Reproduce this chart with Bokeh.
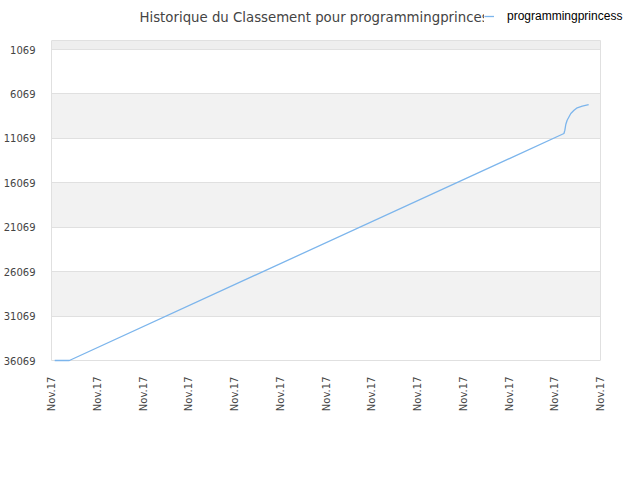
from bokeh.plotting import figure
from bokeh.models import FixedTicker, Range1d, BoxAnnotation, Legend, LegendItem, Label, Grid
from bokeh.embed import file_html
from bokeh.resources import INLINE
import math

# ---- data ----
player = "programmingprincess"
title_text = "Historique du Classement pour programmingprincess"
x_days = [0.07, 0.39, 11.20, 11.22, 11.24, 11.27, 11.35, 11.42, 11.49, 11.60, 11.74]
rank = [36069, 36069, 10522, 10151, 9509, 9026, 8272, 7900, 7630, 7450, 7259]
y_ticks = [1069, 6069, 11069, 16069, 21069, 26069, 31069, 36069]
x_ticks = list(range(0, 13))
x_tick_label = "Nov.17"

# ---- layout (pixels) ----
W, H = 632, 472
LEFT, BOTTOM = 50, 112           # frame left / bottom border
PLOT_W, PLOT_H = 550, 320        # visible plot box
x_lo, x_hi = x_ticks[0], x_ticks[-1]
y_lo, y_hi = y_ticks[-1], 56     # reversed rank axis (bottom, top)
# the frame is extended to the right and to the top so that the legend
# (which sits above the plot box, as in the reference) is not clipped
frame_w = W - LEFT
frame_h = H - BOTTOM
x_end = x_lo + (x_hi - x_lo) * frame_w / PLOT_W
y_end = y_lo + (y_hi - y_lo) * frame_h / PLOT_H

p = figure(width=W, height=H, output_backend="svg", toolbar_location=None,
           x_range=Range1d(x_lo, x_end), y_range=Range1d(y_lo, y_end),
           min_border_left=LEFT, min_border_right=0, min_border_top=0,
           min_border_bottom=BOTTOM, title=None)
p.background_fill_color = "white"
p.border_fill_color = "white"
p.outline_line_color = None

# alternating bands within the plot box
edges = [y_hi] + y_ticks
for i in range(len(edges) - 1):
    if i == 0:
        fill = "#eeeeee"
    elif i % 2 == 0:
        fill = "#f2f2f2"
    else:
        continue
    p.add_layout(BoxAnnotation(left=x_lo, right=x_hi, top=edges[i], bottom=edges[i + 1],
                               fill_color=fill, fill_alpha=1, line_color=None, level="image"))

# grid lines limited to the plot box (top and right edges of the box too)
grid_color = "#e0e0e0"
has_cross = "cross_bounds" in Grid.properties()
p.ygrid.ticker = FixedTicker(ticks=[y_hi] + y_ticks[:-1])
p.ygrid.grid_line_color = grid_color
p.xgrid.ticker = FixedTicker(ticks=[x_hi])
p.xgrid.grid_line_color = grid_color
if has_cross:
    p.ygrid.cross_bounds = (x_lo, x_hi)
    p.xgrid.cross_bounds = (y_hi, y_lo)
else:
    p.ygrid.grid_line_color = None
    p.xgrid.grid_line_color = None
    for i in range(len(edges) - 1):
        p.add_layout(BoxAnnotation(left=x_lo, right=x_hi, top=edges[i], bottom=edges[i + 1],
                                   fill_color=None, line_color="#d6d6d6", level="underlay"))

p.yaxis.ticker = FixedTicker(ticks=y_ticks)
p.xaxis.ticker = FixedTicker(ticks=x_ticks)
p.xaxis.major_label_overrides = {t: x_tick_label for t in x_ticks}
p.xaxis.major_label_orientation = math.pi / 2
p.yaxis.bounds = (y_hi, y_lo)
p.xaxis.bounds = (x_lo, x_hi)
for ax in (p.xaxis, p.yaxis):
    ax.axis_line_color = grid_color
    ax.major_tick_line_color = None
    ax.minor_tick_line_color = None
    ax.major_label_text_font = "DejaVu Sans"
    ax.major_label_text_font_size = "10px"
    ax.major_label_text_color = "#444444"
p.yaxis.major_label_standoff = 10
p.xaxis.major_label_standoff = 10

r = p.line(x_days, rank, line_color="#7cb5ec", line_width=1.3, level="overlay")

p.add_layout(Label(x=88, y=frame_h - 17, x_units="screen", y_units="screen", text=title_text,
                   text_font="DejaVu Sans", text_font_size="13.3px", text_color="#444444",
                   text_baseline="alphabetic", text_align="left"))

legend = Legend(items=[LegendItem(label=player, renderers=[r])],
                location=(433, frame_h - 23), orientation="horizontal",
                background_fill_color="white", background_fill_alpha=1,
                border_line_color=None, padding=4, margin=0, spacing=0,
                glyph_width=10, glyph_height=12, label_height=14, label_standoff=13,
                label_text_font="Liberation Sans", label_text_font_size="12px",
                label_text_color="#000000")
p.add_layout(legend)

open("out.html", "w").write(file_html(p, INLINE))
